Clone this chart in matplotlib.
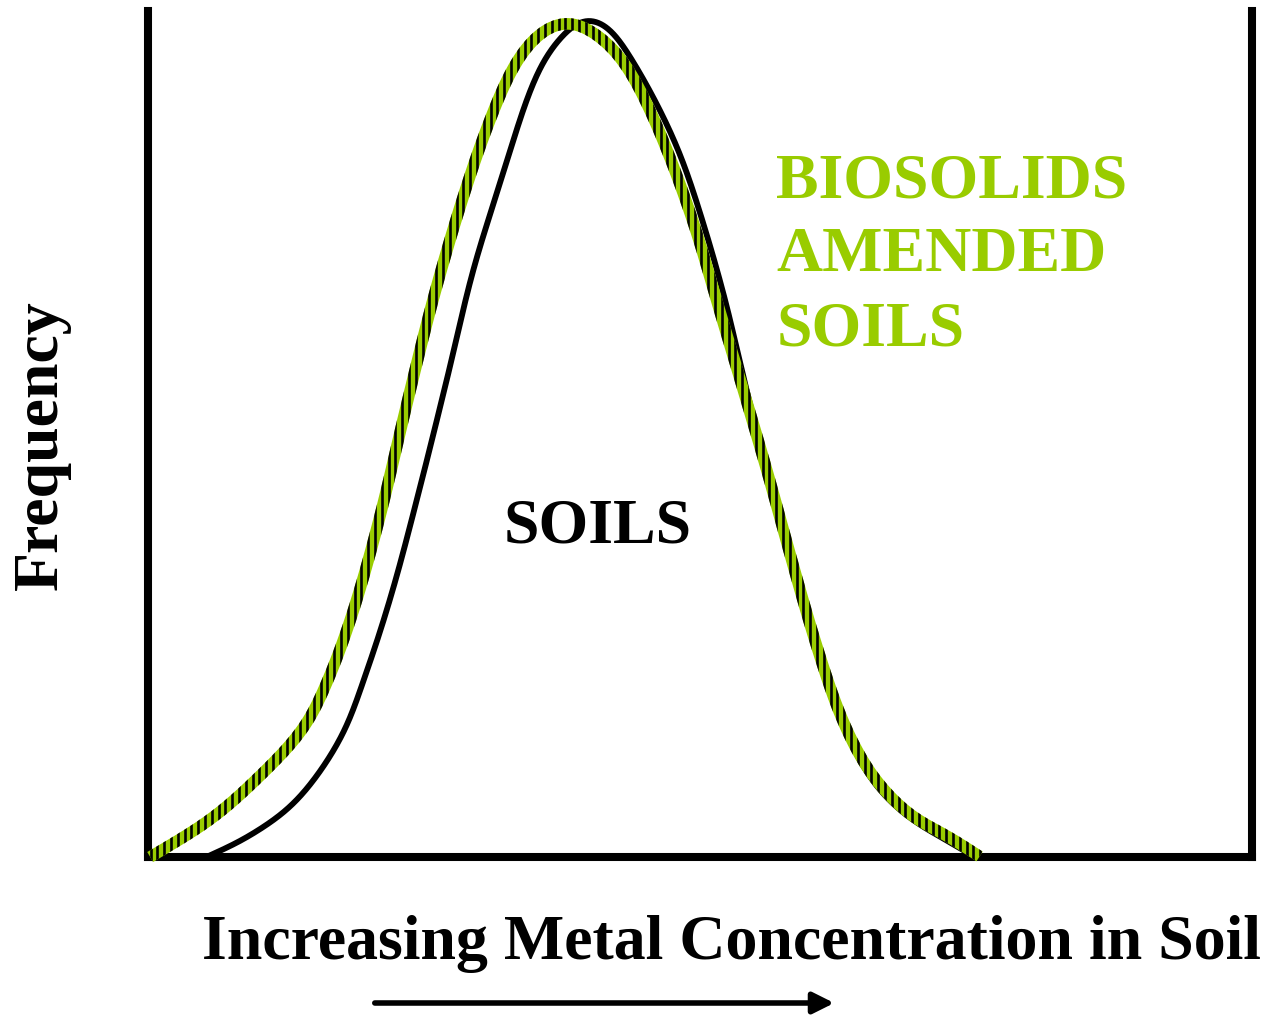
import numpy as np
import matplotlib.pyplot as plt
from matplotlib.patches import Polygon, FancyArrowPatch

plt.rcParams['font.family'] = ['Liberation Serif', 'DejaVu Serif']
plt.rcParams['font.weight'] = 'bold'

GREEN = '#99cc00'

# metal concentration (0-100) vs relative frequency (0-100)
soil_x = [5.3, 9.2, 13.5, 17.4, 19.8, 22.2, 24.6, 27.1, 29.4, 31.9, 34.3, 36.1,
          38.2, 39.8, 41.8, 43.9, 46.4, 48.5, 50.6, 52.4, 54.1, 56.2, 58.2, 60.3,
          62.4, 64.5, 66.6, 69.3, 72.3, 74.9]
soil_y = [0.0, 2.5, 6.7, 13.9, 21.9, 31.7, 43.5, 56.6, 69.1, 79.7, 89.5, 94.7,
          98.0, 99.3, 98.0, 94.1, 88.2, 82.0, 73.6, 65.2, 55.8, 45.0, 35.1, 25.9,
          17.4, 11.3, 7.4, 4.3, 2.0, 0.0]

bio_x = [0.2, 5.3, 9.2, 13.8, 16.2, 18.6, 21.0, 23.4, 25.8, 28.3, 30.7, 33.1,
         35.5, 38.2, 41.2, 43.4, 45.5, 47.6, 49.7, 51.8, 53.9, 56.1, 58.2, 60.2,
         62.4, 64.5, 66.6, 69.3, 72.4, 75.4]
bio_y = [0.0, 4.1, 8.4, 14.7, 20.6, 29.1, 40.2, 53.3, 65.8, 77.0, 86.2, 93.4,
         97.4, 98.8, 96.7, 93.4, 88.2, 81.6, 73.8, 64.5, 55.3, 45.5, 35.6, 26.5,
         17.8, 11.9, 8.0, 4.7, 2.5, 0.0]

# data units -> pixels inside the axes
SX, SY = 1104 / 100, 846 / 100


def stroke(xs, ys, sigma=14.0):
    # Catmull-Rom through the points in pixel space, resampled every pixel,
    # then gently smoothed so the hand-drawn look has no corners
    p = np.column_stack([np.asarray(xs) * SX, np.asarray(ys) * SY])
    q = np.vstack([p[0], p, p[-1]])
    t = np.linspace(0, 1, 30, endpoint=False)[:, None]
    parts = []
    for i in range(1, len(q) - 2):
        p0, p1, p2, p3 = q[i - 1], q[i], q[i + 1], q[i + 2]
        parts.append(0.5 * ((2 * p1) + (-p0 + p2) * t
                            + (2 * p0 - 5 * p1 + 4 * p2 - p3) * t ** 2
                            + (-p0 + 3 * p1 - 3 * p2 + p3) * t ** 3))
    parts.append(q[-2][None, :])
    p = np.vstack(parts)
    seg = np.r_[0, np.cumsum(np.hypot(*np.diff(p, axis=0).T))]
    s = np.arange(0, seg[-1], 1.0)
    p = np.column_stack([np.interp(s, seg, p[:, 0]), np.interp(s, seg, p[:, 1])])
    k = int(3 * sigma)
    pad = np.vstack([2 * p[0] - p[k:0:-1], p, 2 * p[-1] - p[-2:-k - 2:-1]])
    w = np.exp(-0.5 * (np.arange(-k, k + 1) / sigma) ** 2)
    w /= w.sum()
    return np.column_stack([np.convolve(pad[:, i], w, mode='valid') for i in range(2)])


fig = plt.figure(figsize=(12.68, 10.15), dpi=100)
ax = fig.add_axes([148 / 1268, 158 / 1015, 1104 / 1268, 846 / 1015])
ax.set_xlim(0, 100)
ax.set_ylim(0, 100)
ax.set_xticks([])
ax.set_yticks([])
ax.spines['top'].set_visible(False)
for s in ('left', 'right', 'bottom'):
    ax.spines[s].set_linewidth(5.8)

# untreated soils
c = stroke(soil_x, soil_y)
ax.plot(c[:, 0] / SX, c[:, 1] / SY, color='black', lw=4.2,
        solid_capstyle='butt', clip_on=False, zorder=3)

# biosolids amended soils: green band around the curve with black vertical stripes
c = stroke(bio_x, bio_y)
d = np.gradient(c, axis=0)
d /= np.linalg.norm(d, axis=1)[:, None]
nrm = np.column_stack([-d[:, 1], d[:, 0]])
half = 5.8
band = np.vstack([c + nrm * half, (c - nrm * half)[::-1]])
band = np.column_stack([band[:, 0] / SX, band[:, 1] / SY])
poly = Polygon(band, closed=True, facecolor=GREEN, edgecolor='none',
               clip_on=False, zorder=4)
ax.add_patch(poly)
stripes = ax.vlines(np.arange(-1, 78, 6.8 / SX), -3, 103, color='black',
                    lw=1.9, zorder=5)
stripes.set_clip_path(poly)
stripes.set_clip_box(None)

ax.text(40.7, 39.0, 'SOILS', fontsize=46, ha='center', va='center', color='black')
ax.text(56.9, 71.0, 'BIOSOLIDS\nAMENDED\nSOILS', fontsize=46, ha='left',
        va='center', color=GREEN, linespacing=1.37)

fig.text(42 / 1268, 1 - 445 / 1015, 'Frequency', fontsize=46, rotation=90,
         ha='center', va='center')
fig.text(731 / 1268, 1 - 944 / 1015, 'Increasing Metal Concentration in Soil',
         fontsize=46, ha='center', va='center')

fig.patches.append(FancyArrowPatch(
    (372 / 1268, 1 - 1003 / 1015), (837 / 1268, 1 - 1003 / 1015),
    transform=fig.transFigure, arrowstyle='-|>,head_length=0.9,head_width=0.45',
    mutation_scale=14, lw=4.0, color='black'))

fig.savefig('out.png', dpi=100)
